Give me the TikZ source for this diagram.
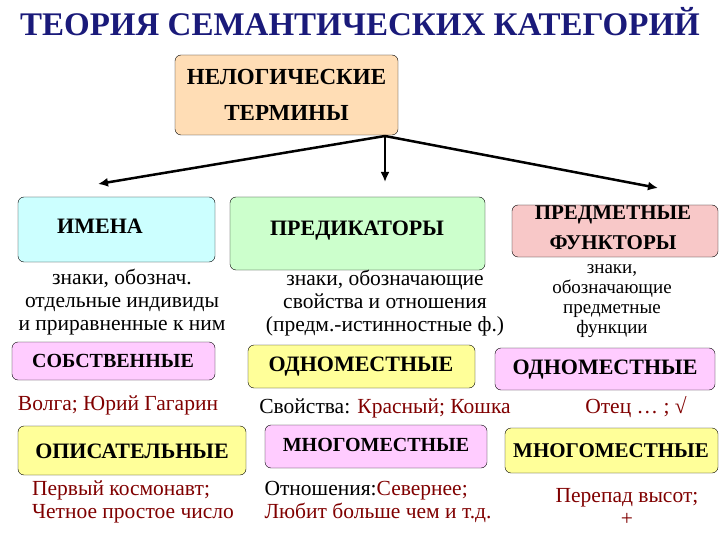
\documentclass[tikz,border=0pt]{standalone}
\usepackage{fontspec}
\setmainfont{Liberation Serif}
\newfontfamily\ser{Liberation Serif}
\usetikzlibrary{arrows.meta}
\definecolor{ttl}{HTML}{1A1A7A}
\definecolor{peach}{HTML}{FFDDB5}
\definecolor{cyanl}{HTML}{CCFFFF}
\definecolor{greenl}{HTML}{CCFFCC}
\definecolor{redl}{HTML}{F8C8C8}
\definecolor{pinkl}{HTML}{FFCCFF}
\definecolor{yell}{HTML}{FFFF99}
\definecolor{dred}{HTML}{800000}
\newcommand{\fs}[1]{\fontsize{#1}{#1}\selectfont}
\tikzset{
 box/.style={draw=black, rounded corners=6pt, thin},
 lab/.style={inner sep=0pt, align=center},
 desc/.style={align=center, font=\ser\fontsize{21.5}{23}\selectfont, inner sep=0pt},
 ex/.style={align=center, font=\ser\fontsize{21.5}{23}\selectfont, text=dred, inner sep=0pt},
 arr/.style={line width=2.5pt, -{Latex[length=10pt,width=9pt]}}
}
\begin{document}
\begin{tikzpicture}[x=1pt,y=-1pt]
\useasboundingbox (0,0) rectangle (720,540);
\node[lab, font=\ser\bfseries\fs{33}, text=ttl] (title) at (360,22) {ТЕОРИЯ СЕМАНТИЧЕСКИХ КАТЕГОРИЙ};
\draw[box, fill=peach] (175,55) rectangle (398,135);
\node[lab, font=\ser\bfseries\fontsize{23}{36}\selectfont] (top) at (286.5,95) {НЕЛОГИЧЕСКИЕ\\ТЕРМИНЫ};
\coordinate (hub) at (385,136);
\coordinate (a1) at (98,184);
\coordinate (a2) at (385,182);
\coordinate (a3) at (658,188);
\draw[arr] (hub) -- (a1);
\draw[arr] (hub) -- (a2);
\draw[arr] (hub) -- (a3);
% row 1
\draw[box, fill=cyanl] (18,197) rectangle (215,262);
\node[lab, font=\ser\bfseries\fs{22}] (imena) at (100,226) {ИМЕНА};
\draw[box, fill=greenl] (230,197) rectangle (485,270);
\node[lab, font=\ser\bfseries\fs{22}] (pred) at (357,231) {ПРЕДИКАТОРЫ};
\draw[box, fill=redl] (512,205) rectangle (718,257);
\node[lab, font=\ser\bfseries\fontsize{21}{30}\selectfont] (funk) at (613,228) {ПРЕДМЕТНЫЕ\\ФУНКТОРЫ};
\node[desc] (d1) at (122,302) {знаки, обознач.\\отдельные индивиды\\и приравненные к ним};
\node[desc] (d2) at (385,303) {знаки, обозначающие\\свойства и отношения\\(предм.-истинностные ф.)};
\node[desc, font=\ser\fontsize{19}{20}\selectfont] (d3) at (612,301) {знаки,\\обозначающие\\предметные\\функции};
% row 2
\draw[box, fill=pinkl] (12,342) rectangle (215,380);
\node[lab, font=\ser\bfseries\fs{20}] (sob) at (113,361) {СОБСТВЕННЫЕ};
\draw[box, fill=yell] (248,345) rectangle (475,388);
\node[lab, font=\ser\bfseries\fs{22}] (odn1) at (361,367) {ОДНОМЕСТНЫЕ};
\draw[box, fill=pinkl] (495,348) rectangle (715,390);
\node[lab, font=\ser\bfseries\fs{22}] (odn2) at (605,370) {ОДНОМЕСТНЫЕ};
\node[ex] (e1) at (118,405) {Волга; Юрий Гагарин};
\node[ex] (e2) at (385,408) {\textcolor{black}{Свойства:} Красный; Кошка};
\node[ex] (e3) at (636,407) {Отец … ; √};
% row 3
\draw[box, fill=yell] (18,426) rectangle (246,475);
\node[lab, font=\ser\bfseries\fs{22}] (opis) at (132,451) {ОПИСАТЕЛЬНЫЕ};
\draw[box, fill=pinkl] (265,425) rectangle (487,468);
\node[lab, font=\ser\bfseries\fs{20}] (mn1) at (376,445) {МНОГОМЕСТНЫЕ};
\draw[box, fill=yell] (505,428) rectangle (718,473);
\node[lab, font=\ser\bfseries\fs{21}] (mn2) at (611,451) {МНОГОМЕСТНЫЕ};
\node[ex, align=left] (f1) at (133,502) {Первый космонавт;\\Четное простое число};
\node[ex, align=left] (f2) at (378,502) {\textcolor{black}{Отношения:}Севернее;\\Любит больше чем и т.д.};
\node[ex] (f3) at (627,507) {Перепад высот;\\+};
\end{tikzpicture}
\end{document}
